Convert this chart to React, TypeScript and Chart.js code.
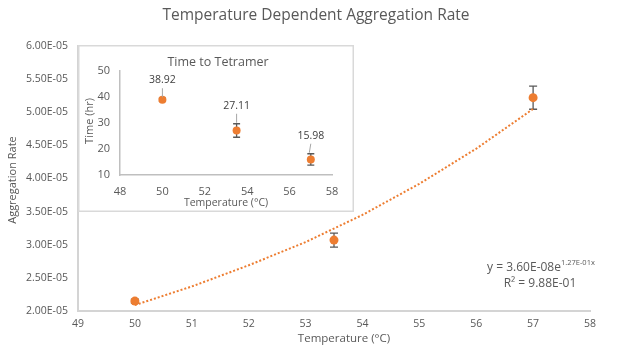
import React, { useEffect, useRef } from 'react';
import { Chart, registerables } from 'chart.js';
Chart.register(...registerables);

// ---- Data ----
const temps = [50, 53.5, 57];
const rates = [2.15e-5, 3.07e-5, 5.22e-5];
const rateErr = [0.03e-5, 0.105e-5, 0.175e-5];
const trendX = [50, 51, 52, 53, 54, 55, 56, 57];
const trendY = [2.09e-5, 2.37e-5, 2.69e-5, 3.04e-5, 3.45e-5, 3.92e-5, 4.45e-5, 5.05e-5];
const hours = [38.92, 27.11, 15.98];
const hourErr = [0.6, 2.6, 2.2];
const hourLabels = ['38.92', '27.11', '15.98'];

const mainTitle = 'Temperature Dependent Aggregation Rate';
const mainYTitle = 'Aggregation Rate';
const xTitle = 'Temperature (°C)';
const insetTitle = 'Time to Tetramer';
const insetYTitle = 'Time (hr)';
const eqMain = 'y = 3.60E-08e';
const eqSup = '1.27E-01x';
const eqR2 = 'R² = 9.88E-01';

const FONT = "'Open Sans', sans-serif";
const TXT = '#595959';
const ORANGE = '#ED7D31';

const fmtE = (v: number) => {
  const [m, e] = v.toExponential(2).split('e');
  const n = parseInt(e, 10);
  return `${m}E${n < 0 ? '-' : '+'}${String(Math.abs(n)).padStart(2, '0')}`;
};

function drawErr(ctx: CanvasRenderingContext2D, x: number, y1: number, y2: number, cap: number) {
  ctx.beginPath();
  ctx.moveTo(x, y1);
  ctx.lineTo(x, y2);
  ctx.moveTo(x - cap, y1);
  ctx.lineTo(x + cap, y1);
  ctx.moveTo(x - cap, y2);
  ctx.lineTo(x + cap, y2);
  ctx.stroke();
}

const mainDeco = {
  id: 'mainDeco',
  beforeDatasetsDraw(chart: any) {
    const ctx = chart.ctx as CanvasRenderingContext2D;
    const xs = chart.scales.x, ys = chart.scales.y;
    ctx.save();
    ctx.strokeStyle = '#595959';
    ctx.lineWidth = 1.3;
    temps.forEach((t, i) => {
      const x = xs.getPixelForValue(t);
      drawErr(ctx, x, ys.getPixelForValue(rates[i] + rateErr[i]), ys.getPixelForValue(rates[i] - rateErr[i]), 4);
    });
    ctx.restore();
  },
  afterDraw(chart: any) {
    const ctx = chart.ctx as CanvasRenderingContext2D;
    ctx.save();
    ctx.fillStyle = TXT;
    ctx.textAlign = 'center';
    ctx.textBaseline = 'middle';
    ctx.font = `15.5px ${FONT}`;
    ctx.fillText(mainTitle, 316, 16);
    ctx.font = `11.5px ${FONT}`;
    ctx.fillText(xTitle, 344, 339);
    ctx.save();
    ctx.translate(13, 180);
    ctx.rotate(-Math.PI / 2);
    ctx.font = `11px ${FONT}`;
    ctx.fillText(mainYTitle, 0, 0);
    ctx.restore();
    // equation
    ctx.textAlign = 'left';
    ctx.font = `12px ${FONT}`;
    const w1 = ctx.measureText(eqMain).width;
    ctx.font = `7.5px ${FONT}`;
    const w2 = ctx.measureText(eqSup).width;
    const sx = 541 - (w1 + w2) / 2;
    ctx.font = `12px ${FONT}`;
    ctx.fillText(eqMain, sx, 268);
    ctx.font = `7.5px ${FONT}`;
    ctx.fillText(eqSup, sx + w1, 263);
    ctx.textAlign = 'center';
    ctx.font = `12px ${FONT}`;
    ctx.fillText(eqR2, 540, 284);
    ctx.restore();
  },
};

const insetDeco = {
  id: 'insetDeco',
  beforeDraw(chart: any) {
    const ctx = chart.ctx as CanvasRenderingContext2D;
    ctx.save();
    ctx.fillStyle = '#ffffff';
    ctx.fillRect(0, 0, chart.width, chart.height);
    ctx.strokeStyle = '#d9d9d9';
    ctx.lineWidth = 1.5;
    ctx.strokeRect(0.75, 0.75, chart.width - 1.5, chart.height - 1.5);
    ctx.restore();
  },
  beforeDatasetsDraw(chart: any) {
    const ctx = chart.ctx as CanvasRenderingContext2D;
    const xs = chart.scales.x, ys = chart.scales.y;
    ctx.save();
    ctx.strokeStyle = '#595959';
    ctx.lineWidth = 1.3;
    temps.forEach((t, i) => {
      const x = xs.getPixelForValue(t);
      drawErr(ctx, x, ys.getPixelForValue(hours[i] + hourErr[i]), ys.getPixelForValue(hours[i] - hourErr[i]), 3.5);
    });
    ctx.restore();
  },
  afterDraw(chart: any) {
    const ctx = chart.ctx as CanvasRenderingContext2D;
    const xs = chart.scales.x, ys = chart.scales.y;
    ctx.save();
    ctx.fillStyle = TXT;
    ctx.textAlign = 'center';
    ctx.textBaseline = 'middle';
    ctx.font = `12.5px ${FONT}`;
    ctx.fillText(insetTitle, 140, 17);
    ctx.font = `10.5px ${FONT}`;
    ctx.fillText(xTitle, 148, 158);
    ctx.save();
    ctx.translate(12, 76);
    ctx.rotate(-Math.PI / 2);
    ctx.font = `11px ${FONT}`;
    ctx.fillText(insetYTitle, 0, 0);
    ctx.restore();
    // data labels with leader lines
    ctx.font = `10.5px ${FONT}`;
    ctx.fillStyle = '#404040';
    ctx.strokeStyle = '#a6a6a6';
    ctx.lineWidth = 1;
    temps.forEach((t, i) => {
      const x = xs.getPixelForValue(t);
      const top = ys.getPixelForValue(hours[i] + hourErr[i]);
      const ly = top - 18;
      ctx.fillText(hourLabels[i], x, ly);
      ctx.beginPath();
      ctx.moveTo(x, ly + 8);
      ctx.lineTo(x - (i === 2 ? 1.5 : 0), top - 1);
      ctx.stroke();
    });
    ctx.restore();
  },
};

export default function App() {
  const mainRef = useRef<HTMLCanvasElement>(null);
  const insetRef = useRef<HTMLCanvasElement>(null);

  useEffect(() => {
    document.body.style.margin = '0';
    document.body.style.overflow = 'hidden';

    const main = new Chart(mainRef.current!, {
      type: 'scatter',
      data: {
        datasets: [
          {
            data: trendX.map((x, i) => ({ x, y: trendY[i] })),
            showLine: true,
            pointRadius: 0,
            borderColor: ORANGE,
            borderWidth: 2,
            borderDash: [2, 2],
            borderCapStyle: 'butt',
          } as any,
          {
            data: temps.map((x, i) => ({ x, y: rates[i] })),
            pointRadius: 4.5,
            pointBackgroundColor: ORANGE,
            pointBorderColor: ORANGE,
            pointBorderWidth: 0,
          },
        ],
      },
      options: {
        responsive: false,
        animation: false,
        events: [],
        layout: { padding: { top: 46, right: 36, left: 0, bottom: 0 } },
        plugins: { legend: { display: false }, tooltip: { enabled: false }, title: { display: false } },
        scales: {
          x: {
            type: 'linear',
            min: 49,
            max: 58,
            afterFit: (s: any) => { s.height = 37; },
            grid: { display: false, drawTicks: false },
            border: { display: true, color: '#d4d4d4', width: 2 },
            ticks: { stepSize: 1, autoSkip: false, maxRotation: 0, padding: 7, color: TXT, font: { family: FONT, size: 10.5 } },
          },
          y: {
            type: 'linear',
            min: 2e-5,
            max: 6e-5,
            afterFit: (s: any) => { s.width = 78; },
            grid: { display: false, drawTicks: false },
            border: { display: true, color: '#d4d4d4', width: 2 },
            ticks: { stepSize: 0.5e-5, autoSkip: false, padding: 10, color: TXT, font: { family: FONT, size: 10.5 }, callback: (v: any) => fmtE(Number(v)) },
          },
        },
      },
      plugins: [mainDeco],
    });

    const inset = new Chart(insetRef.current!, {
      type: 'scatter',
      data: {
        datasets: [
          {
            data: temps.map((x, i) => ({ x, y: hours[i] })),
            pointRadius: 4,
            pointBackgroundColor: ORANGE,
            pointBorderColor: ORANGE,
            pointBorderWidth: 0,
          },
        ],
      },
      options: {
        responsive: false,
        animation: false,
        events: [],
        layout: { padding: { top: 26, right: 22, left: 0, bottom: 0 } },
        plugins: { legend: { display: false }, tooltip: { enabled: false } },
        scales: {
          x: {
            type: 'linear',
            min: 48,
            max: 58,
            afterFit: (s: any) => { s.height = 37; },
            grid: { display: false, drawTicks: false },
            border: { display: true, color: '#bfbfbf', width: 1.5 },
            ticks: { stepSize: 2, autoSkip: false, maxRotation: 0, padding: 10, color: TXT, font: { family: FONT, size: 11 } },
          },
          y: {
            type: 'linear',
            min: 10,
            max: 50,
            afterFit: (s: any) => { s.width = 42; },
            grid: { display: false, drawTicks: false },
            border: { display: true, color: '#bfbfbf', width: 1.5 },
            ticks: { stepSize: 10, autoSkip: false, padding: 10, color: TXT, font: { family: FONT, size: 11 } },
          },
        },
      },
      plugins: [insetDeco],
    });

    return () => {
      main.destroy();
      inset.destroy();
    };
  }, []);

  return (
    <div style={{ position: 'relative', width: 626, height: 348, background: '#ffffff', overflow: 'hidden' }}>
      <canvas ref={mainRef} width={626} height={348} style={{ position: 'absolute', left: 0, top: 0 }} />
      <canvas ref={insetRef} width={276} height={167} style={{ position: 'absolute', left: 78, top: 45 }} />
    </div>
  );
}
